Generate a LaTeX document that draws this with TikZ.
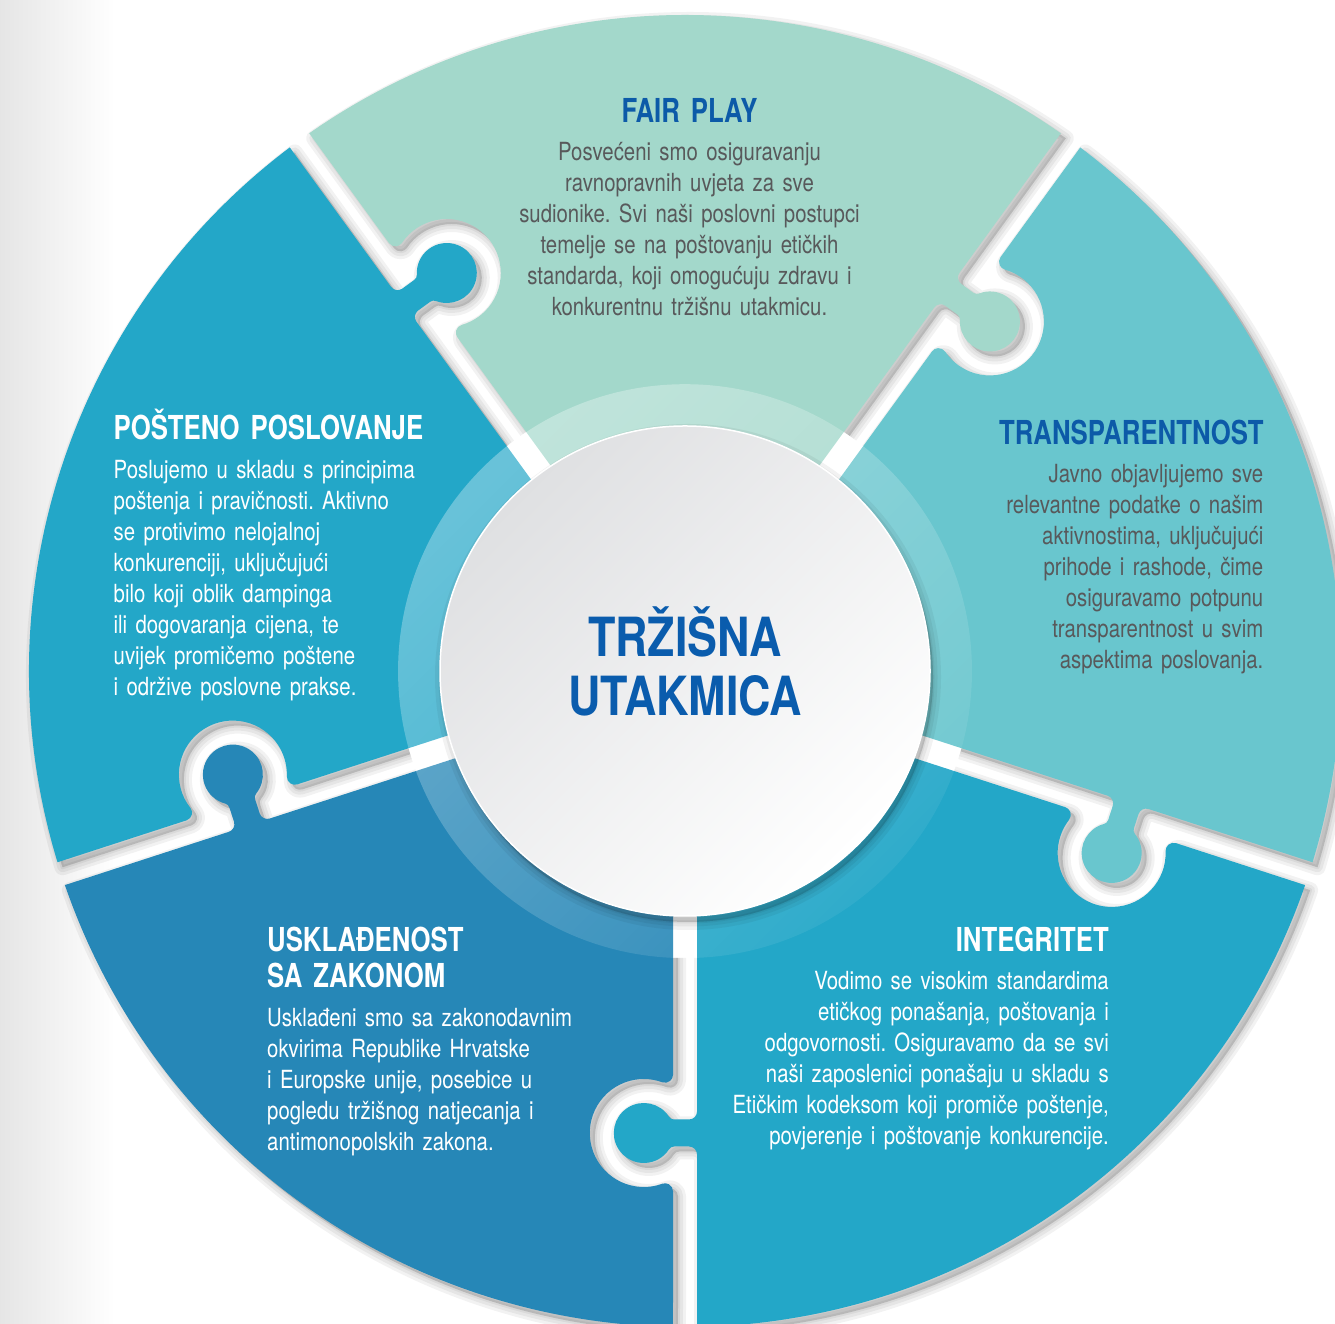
\documentclass[tikz,border=0pt]{standalone}
\usepackage{fontspec}
\usetikzlibrary{fadings}
\newfontfamily\bodyfont{TeX Gyre Heros}[FakeStretch=0.815]
\newfontfamily\headfont{TeX Gyre Heros}[FakeStretch=0.78]
\newfontfamily\centrefont{TeX Gyre Heros}[FakeStretch=0.83]
\frenchspacing
\definecolor{cMint}{HTML}{A3D8CB}
\definecolor{cTeal}{HTML}{69C6CE}
\definecolor{cBlue}{HTML}{23A7C8}
\definecolor{cDeep}{HTML}{2687B7}
\definecolor{cTitle}{HTML}{0C5AA8}
\definecolor{cCenter}{HTML}{0A5CAD}
\definecolor{cText}{HTML}{58595B}
\definecolor{cDisc}{HTML}{DFE0E2}
\tikzfading[name=ringfade, top color=transparent!68, bottom color=transparent!94]
\tikzset{
  rot/.style={shift={(685,653)},rotate=#1},
  piece/.style 2 args={insert path={
    ([rot=#1]110,12) -- ([rot=#1]440.5,12)
    arc[start angle=#1+90, end angle=#1, radius=8]
    -- ([rot=#1]448.5,-10.94)
    arc[start angle=#1, end angle=#1-57.2, radius=6]
    arc[start angle=#1+122.8, end angle=#1+417.2, radius=30]
    arc[start angle=#1+237.2, end angle=#1+180, radius=6]
    -- ([rot=#1]475.5,4)
    arc[start angle=#1+180, end angle=#1+90, radius=8]
    -- ([rot=#1]655.9,12)
    arc[start angle=#1+1.048, end angle=#2-1.048, radius=656]
    -- ([rot=#2]520.26,-12)
    arc[start angle=#2+90, end angle=#2+200, radius=8]
    arc[start angle=#2+20, end angle=#2-200, radius=54]
    arc[start angle=#2-20, end angle=#2+90, radius=8]
    -- ([rot=#2]110,-12) -- cycle}},
  body/.style={inner sep=0pt, text width=560pt, font=\bodyfont\fontsize{25}{31}\selectfont},
  head/.style={inner sep=0pt, text width=560pt, font=\headfont\bfseries\fontsize{33}{35.5}\selectfont},
}
\begin{document}
\begin{tikzpicture}[x=1pt,y=1pt]
\useasboundingbox (0,0) rectangle (1335,1324);
\clip (0,0) rectangle (1335,1324);
% background
\fill[white] (0,0) rectangle (1335,1324);
\shade[left color=black!10, right color=white] (0,0) rectangle (115,1324);
% soft shadows of the pieces
\begin{scope}[even odd rule]
  \clip (0,0) rectangle (1335,1324) (685,653) circle[radius=287];
  \begin{scope}[shift={(5,-5)}]
    \foreach \a/\b in {54/126,126/198,198/270,270/342,342/414}{
      \foreach \w in {16,10,4}{
        \filldraw[black, fill opacity=0.05, draw opacity=0.05, line width=\w pt, line join=round, piece={\a}{\b}];
      }
    }
  \end{scope}
\end{scope}
% pieces
\foreach \a/\b/\c in {54/126/cMint,126/198/cBlue,198/270/cDeep,270/342/cBlue,342/414/cTeal}{
  \fill[\c, piece={\a}{\b}];
}
% translucent ring
\fill[white, path fading=ringfade, fading angle=45] (685,653) circle[radius=287];
% centre disc shadow
\foreach \w in {16,9,3}{
  \filldraw[black, fill opacity=0.05, draw opacity=0.05, line width=\w pt] (688,647) circle[radius=245];
}
\shade[top color=cDisc, bottom color=white, shading angle=45] (685,653) circle[radius=245];
\draw[white, line width=1.5pt] (685,653) circle[radius=245];
\node[inner sep=0pt, text width=500pt, align=center, anchor=base, text=cCenter,
      font=\centrefont\bfseries\fontsize{54}{59}\selectfont] (ctr) at (685,667) {TRŽIŠNA\\UTAKMICA};
% FAIR PLAY
\node[head, align=center, anchor=base, text=cTitle] (fpT) at (689.5,1201) {FAIR PLAY};
\node[body, align=center, anchor=base, text=cText] (fpB) at (689.5,1163)
 {Posvećeni smo osiguravanju\\ravnopravnih uvjeta za sve\\sudionike. Svi naši poslovni postupci\\temelje se na poštovanju etičkih\\standarda, koji omogućuju zdravu i\\konkurentnu tržišnu utakmicu.};
% TRANSPARENTNOST
\node[head, align=right, anchor=base east, text=cTitle] (trT) at (1263.8,879) {TRANSPARENTNOST};
\node[body, align=right, anchor=base east, text=cText] (trB) at (1263.5,841)
 {Javno objavljujemo sve\\relevantne podatke o našim\\aktivnostima, uključujući\\prihode i rashode, čime\\osiguravamo potpunu\\transparentnost u svim\\aspektima poslovanja.};
% POSTENO POSLOVANJE
\node[head, align=left, anchor=base west, text=white] (poT) at (113.5,884) {POŠTENO POSLOVANJE};
\node[body, align=left, anchor=base west, text=white] (poB) at (113.5,845)
 {Poslujemo u skladu s principima\\poštenja i pravičnosti. Aktivno\\se protivimo nelojalnoj\\konkurenciji, uključujući\\bilo koji oblik dampinga\\ili dogovaranja cijena, te\\uvijek promičemo poštene\\i održive poslovne prakse.};
% USKLADENOST
\node[head, align=left, anchor=base west, text=white] (usT) at (267,372) {USKLAĐENOST\\SA ZAKONOM};
\node[body, align=left, anchor=base west, text=white] (usB) at (267,297)
 {Usklađeni smo sa zakonodavnim\\okvirima Republike Hrvatske\\i Europske unije, posebice u\\pogledu tržišnog natjecanja i\\antimonopolskih zakona.};
% INTEGRITET
\node[head, align=right, anchor=base east, text=white] (inT) at (1109,372) {INTEGRITET};
\node[body, align=right, anchor=base east, text=white] (inB) at (1109,334)
 {Vodimo se visokim standardima\\etičkog ponašanja, poštovanja i\\odgovornosti. Osiguravamo da se svi\\naši zaposlenici ponašaju u skladu s\\Etičkim kodeksom koji promiče poštenje,\\povjerenje i poštovanje konkurencije.};
\end{tikzpicture}
\end{document}
